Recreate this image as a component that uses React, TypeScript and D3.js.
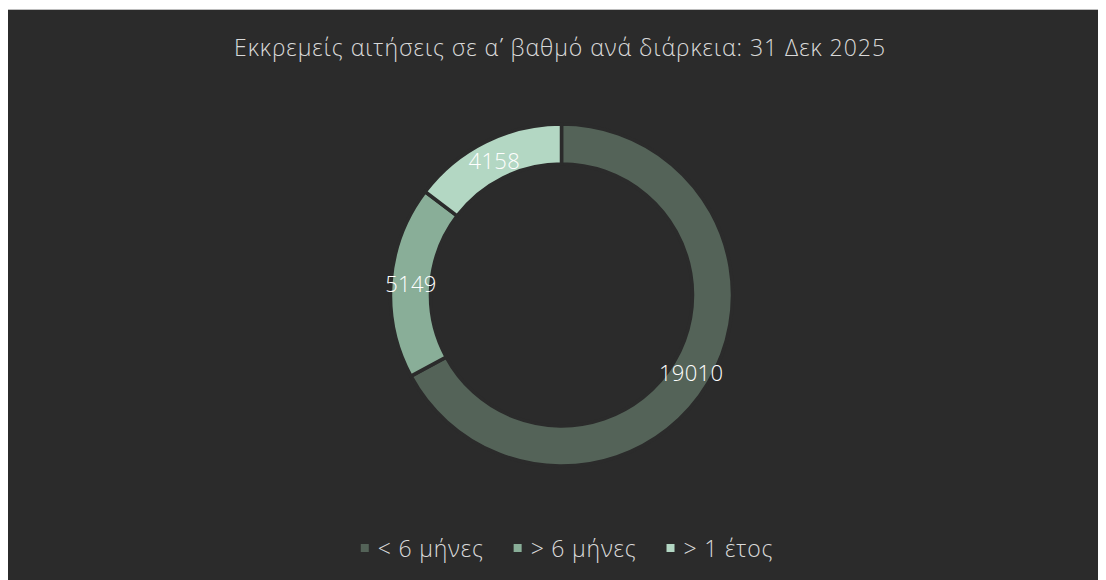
import React, { useEffect, useRef } from 'react';
import * as d3 from 'd3';

const title = 'Εκκρεμείς αιτήσεις σε α\u0374 βαθμό ανά διάρκεια: 31 Δεκ 2025';
const categories = ['< 6 μήνες', '> 6 μήνες', '> 1 έτος'];
const values = [19010, 5149, 4158];
const colors = ['#546358', '#89ae98', '#b3d7c3'];

const width = 1098;
const height = 572;
const bg = '#2b2b2b';
const font = "'Open Sans', 'Noto Sans', 'DejaVu Sans', sans-serif";

export default function App() {
    const svgRef = useRef<SVGSVGElement>(null);

    useEffect(() => {
        const svg = d3.select(svgRef.current);
        svg.selectAll('*').remove();

        svg.append('rect')
            .attr('x', 0).attr('y', 1)
            .attr('width', width).attr('height', height - 1)
            .attr('fill', bg);
        svg.append('line')
            .attr('x1', 0).attr('x2', width)
            .attr('y1', 1.5).attr('y2', 1.5)
            .attr('stroke', '#bdbdbd').attr('stroke-width', 1);

        const titleText = svg.append('text')
            .attr('x', 552).attr('y', 48)
            .attr('text-anchor', 'middle')
            .attr('font-family', font)
            .attr('font-weight', 300)
            .attr('font-size', 23)
            .attr('letter-spacing', 0.6)
            .attr('fill', '#d9d9d9')
            .text(title);
        // stretch to the width the title takes in the original
        const tw = (titleText.node() as SVGTextElement).getComputedTextLength();
        if (tw > 0) {
            titleText.attr('letter-spacing', 0.6 + (652 - tw) / title.length);
        }

        const cx = 553.5, cy = 287;
        const outer = 171, inner = 131;

        const pie = d3.pie<number>().sort(null).value((d) => d);
        const arc = d3.arc<d3.PieArcDatum<number>>().innerRadius(inner).outerRadius(outer);
        const arcs = pie(values);

        const g = svg.append('g').attr('transform', `translate(${cx}, ${cy})`);
        g.selectAll('path')
            .data(arcs)
            .enter().append('path')
            .attr('d', (d) => arc(d))
            .attr('fill', (_, i) => colors[i])
            .attr('stroke', bg)
            .attr('stroke-width', 3.5);

        g.selectAll('text')
            .data(arcs)
            .enter().append('text')
            .attr('transform', (d) => `translate(${arc.centroid(d)})`)
            .attr('text-anchor', 'middle')
            .attr('dominant-baseline', 'central')
            .attr('font-family', font)
            .attr('font-weight', 300)
            .attr('font-size', 22)
            .attr('letter-spacing', 0.3)
            .attr('fill', '#ffffff')
            .text((d) => d.data);

        // legend, centred under the chart
        const legend = svg.append('g');
        const items = legend.selectAll('g')
            .data(categories)
            .enter().append('g');
        items.append('rect')
            .attr('width', 8).attr('height', 8)
            .attr('y', -13)
            .attr('fill', (_, i) => colors[i]);
        items.append('text')
            .attr('x', 17)
            .attr('font-family', font)
            .attr('font-weight', 300)
            .attr('font-size', 23)
            .attr('letter-spacing', 0.8)
            .attr('fill', '#d9d9d9')
            .text((d) => d);

        let x = 0;
        items.each(function () {
            const t = d3.select(this).select('text').node() as SVGTextElement;
            d3.select(this).attr('transform', `translate(${x}, 0)`);
            x += 17 + t.getComputedTextLength() + 30;
        });
        const total = x - 30;
        legend.attr('transform', `translate(${559 - total / 2}, 549)`);
    }, []);

    return (
        <svg ref={svgRef} width={width} height={height} style={{ display: 'block' }} />
    );
}
